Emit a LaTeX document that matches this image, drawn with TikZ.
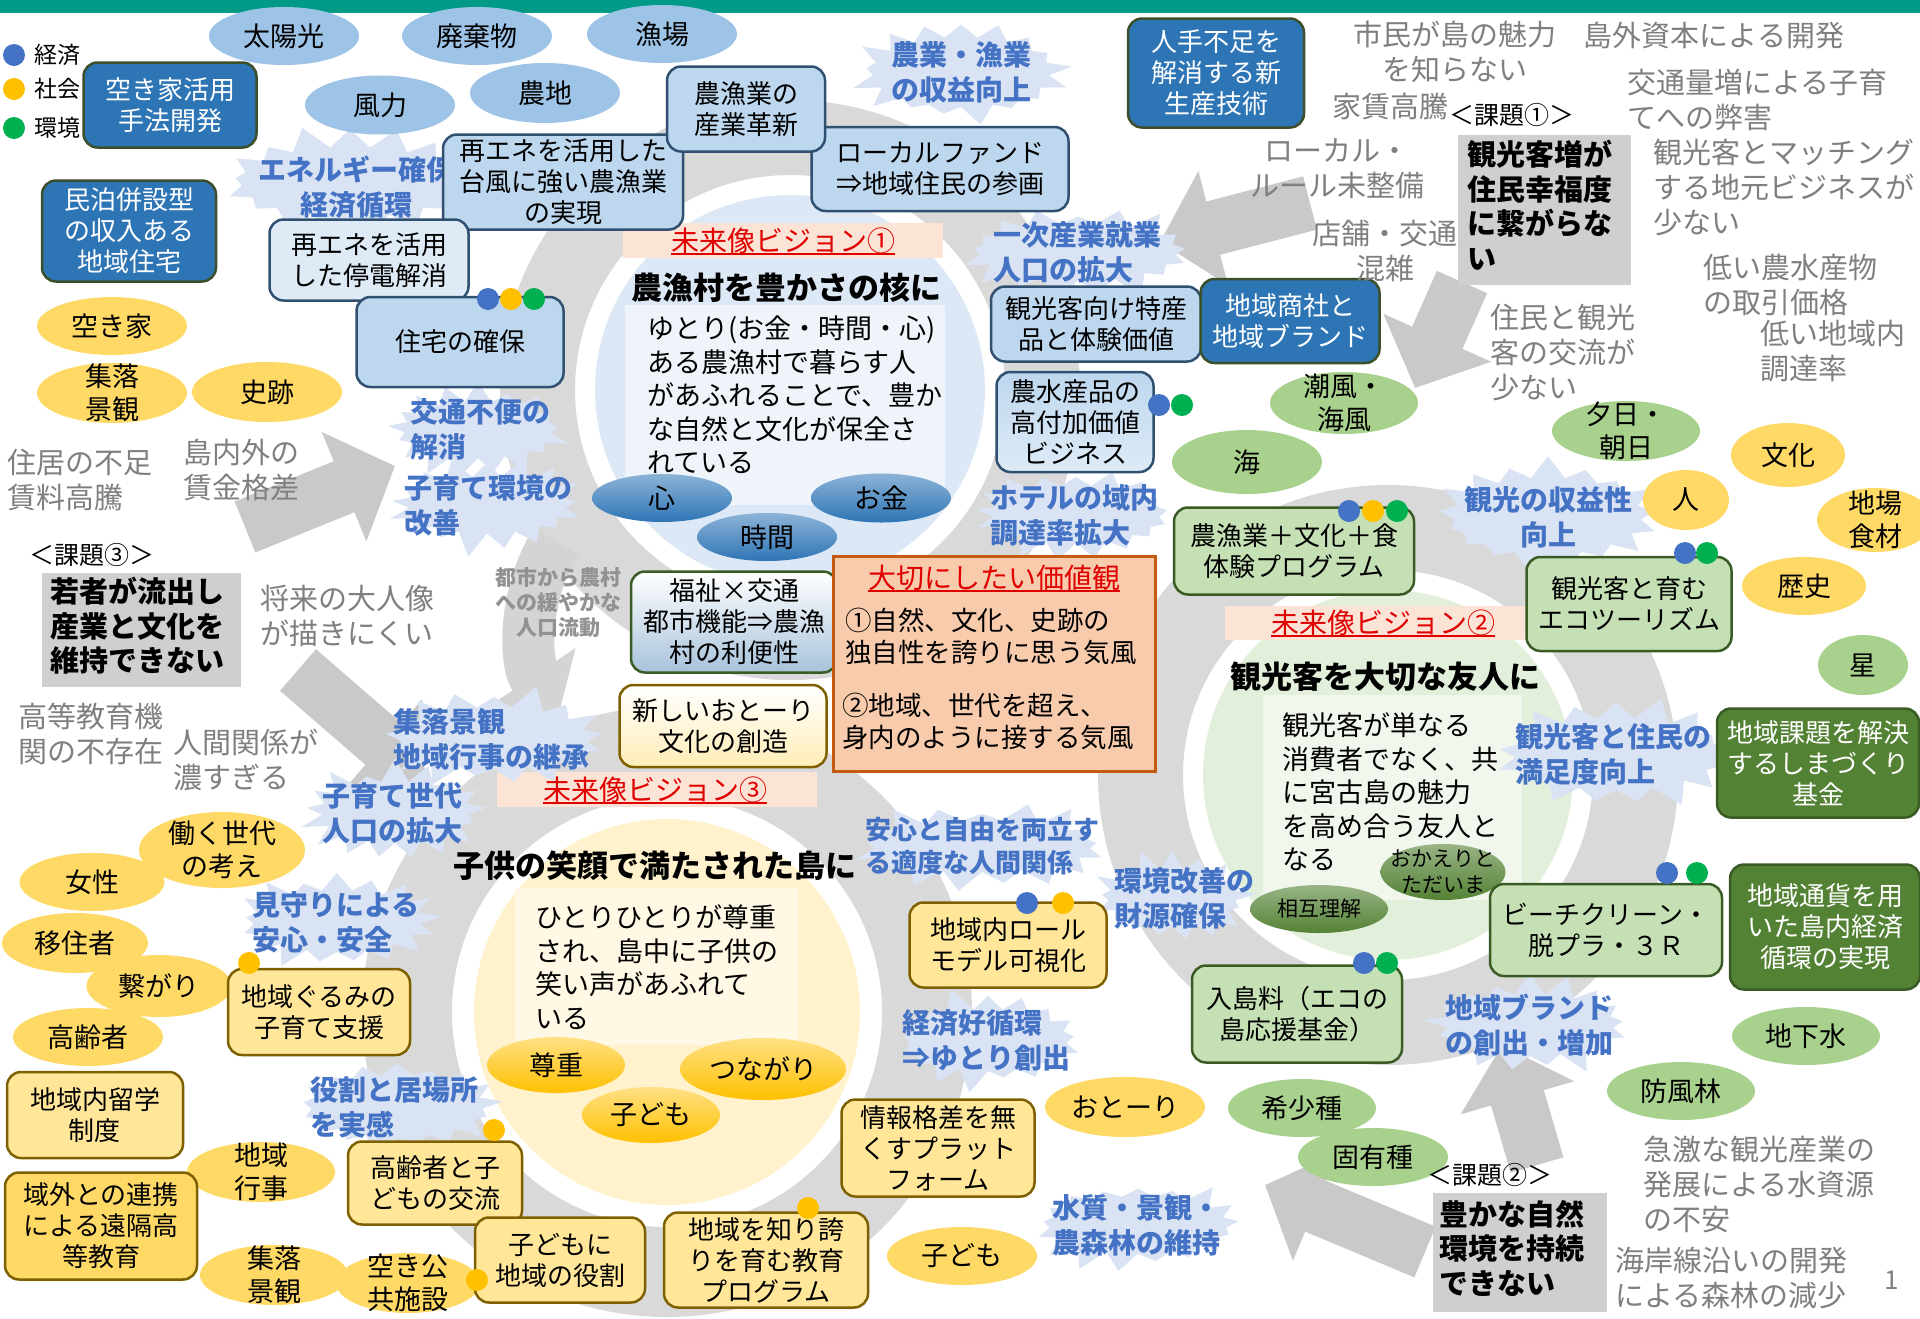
\documentclass[tikz,border=0pt]{standalone}
\usepackage{fontspec}
\setmainfont{Noto Sans CJK JP}
\usetikzlibrary{shapes.symbols,shapes.geometric,arrows.meta}
\newcommand\fz[2]{\fontsize{#1}{#2}\selectfont}
\definecolor{cTeal}{HTML}{009A87}
\definecolor{cDB}{HTML}{2E75B6}
\definecolor{cDBd}{HTML}{3B4F2B}
\definecolor{cLBe}{HTML}{9DC3E6}
\definecolor{cLB}{HTML}{BDD7EE}
\definecolor{cLBl}{HTML}{DEEBF7}
\definecolor{cLBd}{HTML}{2F5070}
\definecolor{cYe}{HTML}{FFD966}
\definecolor{cCr}{HTML}{FFE699}
\definecolor{cCrd}{HTML}{7F6000}
\definecolor{cGe}{HTML}{A9D18E}
\definecolor{cGb}{HTML}{C5E0B4}
\definecolor{cGd}{HTML}{3B5B25}
\definecolor{cDG}{HTML}{548235}
\definecolor{cBurst}{HTML}{DAE3F3}
\definecolor{cBlueT}{HTML}{4472C4}
\definecolor{cGrayT}{HTML}{7F7F7F}
\definecolor{cPBox}{HTML}{D0CECE}
\definecolor{cRing}{HTML}{D9D9D9}
\definecolor{cArr}{HTML}{C9C9C9}
\definecolor{cVal}{HTML}{F8CBAD}
\definecolor{cVald}{HTML}{C55A11}
\definecolor{cPeach}{HTML}{FBE3D6}
\definecolor{cRed}{HTML}{E00000}
\definecolor{cDotB}{HTML}{4472C4}
\definecolor{cDotY}{HTML}{FFC000}
\definecolor{cDotG}{HTML}{00B050}
\definecolor{cV1}{HTML}{DCE8F5}
\definecolor{cV1r}{HTML}{EEF4FA}
\definecolor{cV2}{HTML}{E2EFDA}
\definecolor{cV2r}{HTML}{F1F7ED}
\definecolor{cV3}{HTML}{FFF2CC}
\definecolor{cV3r}{HTML}{FFF8E5}
\tikzset{
  ell/.style={ellipse, inner sep=0pt},
  lbell/.style={ell, fill=cLBe},
  yell/.style={ell, fill=cYe},
  gell/.style={ell, fill=cGe},
  etxt/.style={align=center, inner sep=0pt, font=\fz{27}{33}},
  rbox/.style={rounded corners=14pt, line width=2.5pt, align=center, inner sep=0pt, font=\fz{26}{31}},
  dbb/.style={rbox, fill=cDB, draw=cDBd, text=white},
  lbb/.style={rbox, fill=cLB, draw=cLBd},
  cbb/.style={rbox, fill=cCr, draw=cCrd},
  gbb/.style={rbox, fill=cGb, draw=cGd},
  dgb/.style={rbox, fill=cDG, draw=cGd, text=white},
  burst/.style={starburst, starburst points=17, starburst point height=24pt, fill=cBurst, draw=none, inner sep=0pt},
  btxt/.style={text=cBlueT, font=\bfseries\fz{28}{35}, align=left, inner sep=0pt, anchor=west},
  gtxt/.style={text=cGrayT, font=\fz{29}{35}, align=left, inner sep=0pt, anchor=west},
  gtxtc/.style={text=cGrayT, font=\fz{29}{35}, align=center, inner sep=0pt},
  ptxt/.style={font=\bfseries\fz{29}{34.5}, align=left, inner sep=0pt, anchor=west},
  pbox/.style={fill=cPBox, inner sep=0pt},
  plab/.style={font=\fz{25}{30}, inner sep=0pt},
  vt/.style={text=cRed, font=\fz{28}{32}, inner sep=0pt},
  vh/.style={font=\bfseries\fz{31}{36}, inner sep=0pt},
  vb/.style={font=\fz{27}{33.5}, align=left, inner sep=0pt, anchor=west},
  dot/.style={circle, inner sep=0pt, minimum size=22pt},
  blockarr/.style={cArr, line width=55pt, -{Triangle[width=115pt,length=55pt]}},
}
\newcommand\Ell[7]{\node[#1, minimum width=#5pt, minimum height=#6pt] (#2) at (#3,#4) {};\node[etxt] (#2-t) at (#3,#4) {#7};}
\newcommand\Burst[6]{\node[burst, random starburst=#6, minimum width=#4pt, minimum height=#5pt] (#1) at (#2,#3) {};}
\begin{document}
\begin{tikzpicture}[x=1pt,y=-1pt]
\useasboundingbox (0,0) rectangle (1920,1318);
\fill[cTeal] (0,0) rectangle (1920,13);

% ---- gray rings
\fill[cRing,even odd rule] (790,390) circle (290pt) circle (215pt);
\fill[cRing,even odd rule] (1388,775) circle (290pt) circle (205pt);
\fill[cRing,even odd rule] (667,1012) circle (305pt) circle (215pt);
\draw[cArr!80, line width=52pt, -{Triangle[width=98pt,length=45pt]}] (690,625) ++(212:158) arc[start angle=212, end angle=146, radius=158];

% ---- vision circles
\fill[cV1] (790,390) circle (195pt);
\fill[cV1r] (625,305) rectangle (945,505);
\fill[cV2] (1388,775) circle (185pt);
\fill[cV2r] (1263,695) rectangle (1522,900);
\fill[cV3] (667,1012) circle (193pt);
\fill[cV3r] (515,888) rectangle (798,1045);
\fill[cPeach] (623,223) rectangle (943,258);
\fill[cPeach] (1225,606) rectangle (1527,640);
\fill[cPeach] (497,772) rectangle (817,807);

% ---- block arrows
\coordinate (a1s) at (245,527); \coordinate (a1e) at (395,466);
\coordinate (a2s) at (298,670); \coordinate (a2e) at (425,780);
\coordinate (a3s) at (1310,203); \coordinate (a3e) at (1160,242);
\coordinate (a4s) at (1462,282); \coordinate (a4e) at (1415,388);
\coordinate (a5s) at (1425,1252); \coordinate (a5e) at (1265,1185);
\coordinate (a6s) at (1537,1165); \coordinate (a6e) at (1502,1045);
\draw[blockarr] (a1s) -- (a1e);
\draw[blockarr] (a2s) -- (a2e);
\draw[blockarr] (a3s) -- (a3e);
\draw[blockarr] (a4s) -- (a4e);
\draw[blockarr] (a5s) -- (a5e);
\draw[blockarr] (a6s) -- (a6e);

% ---- starbursts
\Burst{s1}{350}{182}{265}{118}{11}
\Burst{s2}{961}{72}{225}{118}{12}
\Burst{s3}{1078}{252}{245}{105}{13}
\Burst{s4}{478}{430}{195}{105}{14}
\Burst{s5}{487}{505}{205}{105}{15}
\Burst{s6}{1076}{514}{215}{105}{16}
\Burst{s7}{1548}{516}{235}{125}{17}
\Burst{s8}{1616}{754}{250}{120}{18}
\Burst{s9}{494}{738}{235}{110}{19}
\Burst{s10}{395}{812}{195}{110}{20}
\Burst{s11}{337}{921}{215}{110}{21}
\Burst{s12}{397}{1106}{220}{110}{22}
\Burst{s13}{982}{846}{265}{100}{23}
\Burst{s14}{1172}{898}{175}{105}{24}
\Burst{s15}{988}{1040}{205}{110}{25}
\Burst{s16}{1138}{1225}{225}{105}{26}
\Burst{s17}{1530}{1025}{215}{110}{27}
\node[btxt, anchor=center, align=center] (s1t) at (356,187) {エネルギー確保\\経済循環};
\node[btxt, anchor=center, align=center] (s2t) at (961,72) {農業・漁業\\の収益向上};
\node[btxt] (s3t) at (993,252) {一次産業就業\\人口の拡大};
\node[btxt] (s4t) at (410,429) {交通不便の\\解消};
\node[btxt] (s5t) at (404,505) {子育て環境の\\改善};
\node[btxt] (s6t) at (990,515) {ホテルの域内\\調達率拡大};
\node[btxt, anchor=center, align=center] (s7t) at (1548,517) {観光の収益性\\向上};
\node[btxt] (s8t) at (1515,754) {観光客と住民の\\満足度向上};
\node[btxt] (s9t) at (393,739) {集落景観\\地域行事の継承};
\node[btxt] (s10t) at (322,813) {子育て世代\\人口の拡大};
\node[btxt] (s11t) at (252,922) {見守りによる\\安心・安全};
\node[btxt] (s12t) at (310,1107) {役割と居場所\\を実感};
\node[btxt, font=\bfseries\fz{26}{33}] (s13t) at (865,846) {安心と自由を両立す\\る適度な人間関係};
\node[btxt] (s14t) at (1114,898) {環境改善の\\財源確保};
\node[btxt] (s15t) at (902,1040) {経済好循環\\⇒ゆとり創出};
\node[btxt] (s16t) at (1052,1225) {水質・景観・\\農森林の維持};
\node[btxt] (s17t) at (1445,1025) {地域ブランド\\の創出・増加};

% ---- legend
\node[dot, fill=cDotB] (lg1) at (14,55) {};
\node[dot, fill=cDotY] (lg2) at (14,89) {};
\node[dot, fill=cDotG] (lg3) at (14,128) {};
\node[anchor=west, inner sep=0pt, font=\fz{23}{26}] (lg1t) at (34,55) {経済};
\node[anchor=west, inner sep=0pt, font=\fz{23}{26}] (lg2t) at (34,89) {社会};
\node[anchor=west, inner sep=0pt, font=\fz{23}{26}] (lg3t) at (34,128) {環境};

% ---- light blue ellipses
\Ell{lbell}{e1}{284}{36}{150}{58}{太陽光}
\Ell{lbell}{e2}{477}{36}{150}{58}{廃棄物}
\Ell{lbell}{e3}{662}{34}{150}{58}{漁場}
\Ell{lbell}{e4}{380}{105}{150}{59}{風力}
\Ell{lbell}{e5}{545}{93}{150}{60}{農地}

% ---- dark blue boxes
\node[dbb, minimum width=173pt, minimum height=85pt] (dA) at (170,105) {空き家活用\\手法開発};
\node[dbb, minimum width=174pt, minimum height=101pt] (dB) at (129,231) {民泊併設型\\の収入ある\\地域住宅};
\node[dbb, minimum width=176pt, minimum height=109pt] (dC) at (1216,73) {人手不足を\\解消する新\\生産技術};

% ---- light blue boxes
\node[lbb, minimum width=240pt, minimum height=95pt] (b2) at (563,182) {再エネを活用した\\台風に強い農漁業\\の実現};
\node[lbb, minimum width=257pt, minimum height=84pt] (b3) at (940,169) {ローカルファンド\\⇒地域住民の参画};
\node[lbb, minimum width=158pt, minimum height=85pt] (b1) at (746,109) {農漁業の\\産業革新};
\node[lbb, fill=cLBl, minimum width=199pt, minimum height=81pt] (b4) at (369,260) {再エネを活用\\した停電解消};
\node[lbb, minimum width=207pt, minimum height=90pt] (b5) at (460,342) {住宅の確保};
\node[dot, fill=cDotB] (b5d1) at (488,299) {};
\node[dot, fill=cDotY] (b5d2) at (511,299) {};
\node[dot, fill=cDotG] (b5d3) at (534,299) {};
\node[lbb, minimum width=210pt, minimum height=75pt] (b6) at (1096,324) {観光客向け特産\\品と体験価値};
\node[dbb, minimum width=179pt, minimum height=84pt] (dD) at (1290,321) {地域商社と\\地域ブランド};
\node[lbb, minimum width=157pt, minimum height=100pt, top color=cLB, bottom color=cLBl] (b7) at (1075,422) {農水産品の\\高付加価値\\ビジネス};
\node[dot, fill=cDotB] (b7d1) at (1159,405) {};
\node[dot, fill=cDotG] (b7d2) at (1182,405) {};

% ---- vision 1
\node[vt] (v1t) at (783,241) {未来像ビジョン①};
\draw[cRed, line width=1.8pt] (v1t.south west) -- (v1t.south east);
\node[vh] (v1h) at (786,288) {農漁村を豊かさの核に};
\node[vb] (v1b) at (647,395) {ゆとり(お金・時間・心)\\ある農漁村で暮らす人\\があふれることで、豊か\\な自然と文化が保全さ\\れている};
\Ell{ell, top color=cDB!55, bottom color=cDB}{o1}{662}{498}{140}{48}{心}
\Ell{ell, top color=cDB!55, bottom color=cDB}{o2}{881}{498}{140}{49}{お金}
\Ell{ell, top color=cDB!55, bottom color=cDB}{o3}{767}{537}{140}{48}{時間}

% ---- center values
\node[text=cGrayT!85, font=\bfseries\fz{21}{25}, align=center, inner sep=0pt] (flow) at (558,603) {都市から農村\\への緩やかな\\人口流動};
\node[rbox, draw=cGd, top color=white, bottom color=cLB!85!cLBd, minimum width=206pt, minimum height=101pt] (fuku) at (734,622) {福祉×交通\\都市機能⇒農漁\\村の利便性};
\node[rbox, draw=cCrd, top color=white, bottom color=cCr!70, minimum width=207pt, minimum height=82pt] (shin) at (723,726) {新しいおとーり\\文化の創造};
\node[draw=cVald, fill=cVal, line width=3pt, minimum width=322pt, minimum height=215pt, inner sep=0pt] (val) at (994,664) {};
\node[vt] (valt) at (994,578) {大切にしたい価値観};
\draw[cRed, line width=1.8pt] (valt.south west) -- (valt.south east);
\node[vb, font=\fz{26.5}{32}] (val1) at (845,636) {①自然、文化、史跡の\\独自性を誇りに思う気風};
\node[vb, font=\fz{26.5}{32}] (val2) at (842,721) {②地域、世代を超え、\\身内のように接する気風};

% ---- vision 2
\node[vt] (v2t) at (1383,623) {未来像ビジョン②};
\draw[cRed, line width=1.8pt] (v2t.south west) -- (v2t.south east);
\node[vh] (v2h) at (1385,677) {観光客を大切な友人に};
\node[vb] (v2b) at (1282,792) {観光客が単なる\\消費者でなく、共\\に宮古島の魅力\\を高め合う友人と\\なる};
\node[ell, top color=cDG!60, bottom color=cDG, minimum width=125pt, minimum height=56pt] (o4) at (1443,872) {};
\node[etxt, font=\fz{21}{26}] (o4-t) at (1443,872) {おかえりと\\ただいま};
\node[ell, top color=cDG!60, bottom color=cDG, minimum width=138pt, minimum height=48pt] (o5) at (1319,909) {};
\node[etxt, font=\fz{21}{26}] (o5-t) at (1319,909) {相互理解};

% ---- vision 3
\node[vt] (v3t) at (655,790) {未来像ビジョン③};
\draw[cRed, line width=1.8pt] (v3t.south west) -- (v3t.south east);
\node[vh] (v3h) at (655,866) {子供の笑顔で満たされた島に};
\node[vb] (v3b) at (535,967) {ひとりひとりが尊重\\され、島中に子供の\\笑い声があふれて\\いる};
\Ell{ell, top color=cYe!80, bottom color=cDotY}{o6}{556}{1065}{138}{56}{尊重}
\Ell{ell, top color=cYe!80, bottom color=cDotY}{o7}{763}{1069}{166}{62}{つながり}
\Ell{ell, top color=cYe!80, bottom color=cDotY}{o8}{651}{1115}{138}{56}{子ども}

% ---- green boxes
\node[gbb, minimum width=240pt, minimum height=87pt] (g1) at (1294,551) {農漁業＋文化＋食\\体験プログラム};
\node[dot, fill=cDotB] (g1d1) at (1349,511) {};
\node[dot, fill=cDotY] (g1d2) at (1373,511) {};
\node[dot, fill=cDotG] (g1d3) at (1397,511) {};
\node[gbb, minimum width=205pt, minimum height=94pt] (g2) at (1629,604) {観光客と育む\\エコツーリズム};
\node[dot, fill=cDotB] (g2d1) at (1685,553) {};
\node[dot, fill=cDotG] (g2d2) at (1707,553) {};
\node[gbb, minimum width=232pt, minimum height=92pt] (g3) at (1606,930) {ビーチクリーン・\\脱プラ・３Ｒ};
\node[dot, fill=cDotB] (g3d1) at (1667,873) {};
\node[dot, fill=cDotG] (g3d2) at (1697,873) {};
\node[gbb, minimum width=210pt, minimum height=97pt] (g4) at (1297,1014) {入島料（エコの\\島応援基金）};
\node[dot, fill=cDotB] (g4d1) at (1364,963) {};
\node[dot, fill=cDotG] (g4d2) at (1387,963) {};
\node[dgb, minimum width=202pt, minimum height=109pt] (dg1) at (1818,763) {地域課題を解決\\するしまづくり\\基金};
\node[dgb, minimum width=190pt, minimum height=125pt] (dg2) at (1825,927) {地域通貨を用\\いた島内経済\\循環の実現};

% ---- green ellipses
\Ell{gell}{f1}{1344}{403}{148}{62}{潮風・\\海風}
\Ell{gell}{f2}{1247}{462}{150}{64}{海}
\Ell{gell}{f3}{1626}{431}{148}{60}{夕日・\\朝日}
\Ell{gell}{f4}{1863}{665}{90}{60}{星}
\Ell{gell}{f5}{1806}{1036}{148}{58}{地下水}
\Ell{gell}{f6}{1681}{1091}{148}{58}{防風林}
\Ell{gell}{f7}{1302}{1108}{148}{58}{希少種}
\Ell{gell}{f8}{1373}{1157}{150}{58}{固有種}

% ---- yellow ellipses
\Ell{yell}{y1}{112}{326}{150}{58}{空き家}
\Ell{yell}{y2}{112}{393}{150}{60}{集落\\景観}
\Ell{yell}{y3}{267}{392}{150}{60}{史跡}
\Ell{yell}{y4}{222}{850}{166}{76}{働く世代\\の考え}
\Ell{yell}{y5}{92}{882}{145}{58}{女性}
\Ell{yell}{y6}{75}{943}{146}{60}{移住者}
\Ell{yell}{y7}{159}{986}{145}{62}{繋がり}
\Ell{yell}{y8}{88}{1037}{150}{58}{高齢者}
\Ell{yell}{y9}{261}{1172}{148}{60}{地域\\行事}
\Ell{yell}{y10}{274}{1275}{148}{60}{集落\\景観}
\Ell{yell}{y11}{408}{1283}{144}{60}{空き公\\共施設}
\Ell{yell}{y12}{1125}{1107}{160}{60}{おとーり}
\Ell{yell}{y13}{962}{1256}{150}{58}{子ども}
\Ell{yell}{y14}{1788}{455}{114}{64}{文化}
\Ell{yell}{y15}{1686}{500}{86}{60}{人}
\Ell{yell}{y16}{1875}{520}{116}{64}{地場\\食材}
\Ell{yell}{y17}{1804}{586}{124}{58}{歴史}

% ---- cream boxes
\node[cbb, minimum width=182pt, minimum height=86pt] (c1) at (319,1012) {地域ぐるみの\\子育て支援};
\node[dot, fill=cDotY] (c1d) at (249,963) {};
\node[cbb, minimum width=176pt, minimum height=86pt] (c2) at (95,1115) {地域内留学\\制度};
\node[cbb, fill=cYe, minimum width=192pt, minimum height=107pt] (c3) at (101,1226) {域外との連携\\による遠隔高\\等教育};
\node[cbb, minimum width=174pt, minimum height=83pt] (c4) at (435,1183) {高齢者と子\\どもの交流};
\node[dot, fill=cDotY] (c4d) at (494,1130) {};
\node[cbb, minimum width=170pt, minimum height=85pt] (c5) at (560,1260) {子どもに\\地域の役割};
\node[dot, fill=cDotY] (c5d) at (477,1280) {};
\node[cbb, minimum width=204pt, minimum height=95pt] (c6) at (766,1260) {地域を知り誇\\りを育む教育\\プログラム};
\node[dot, fill=cDotY] (c6d) at (808,1208) {};
\node[cbb, minimum width=193pt, minimum height=97pt] (c7) at (938,1148) {情報格差を無\\くすプラット\\フォーム};
\node[cbb, minimum width=197pt, minimum height=85pt] (c8) at (1008,945) {地域内ロール\\モデル可視化};
\node[dot, fill=cDotB] (c8d1) at (1027,903) {};
\node[dot, fill=cDotY] (c8d2) at (1063,903) {};

% ---- gray problem texts
\node[gtxtc] (G1) at (1455,52) {市民が島の魅力\\を知らない};
\node[gtxtc] (G2) at (1390,107) {家賃高騰};
\node[gtxtc] (G3) at (1714,35) {島外資本による開発};
\node[gtxt] (G4) at (1627,100) {交通量増による子育\\てへの弊害};
\node[gtxt] (G5) at (1653,188) {観光客とマッチング\\する地元ビジネスが\\少ない};
\node[gtxt] (G6) at (1703,285) {低い農水産物\\の取引価格};
\node[gtxt] (G7) at (1760,351) {低い地域内\\調達率};
\node[gtxt] (G8) at (1490,352) {住民と観光\\客の交流が\\少ない};
\node[gtxtc] (G9) at (1337,169) {ローカル・\\ルール未整備};
\node[gtxtc] (G10) at (1385,251) {店舗・交通\\混雑};
\node[gtxt] (G11) at (7,480) {住居の不足\\賃料高騰};
\node[gtxt] (G12) at (183,470) {島内外の\\賃金格差};
\node[gtxt] (G13) at (260,616) {将来の大人像\\が描きにくい};
\node[gtxt] (G14) at (18,734) {高等教育機\\関の不存在};
\node[gtxt] (G15) at (173,760) {人間関係が\\濃すぎる};
\node[gtxt] (G16) at (1643,1184) {急激な観光産業の\\発展による水資源\\の不安};
\node[gtxt] (G17) at (1615,1278) {海岸線沿いの開発\\による森林の減少};
\node[text=cGrayT, font=\fz{26}{30}, inner sep=0pt] (pg) at (1892,1280) {1};

% ---- problem boxes
\node[plab] (p1l) at (1512,115) {＜課題①＞};
\node[pbox, minimum width=173pt, minimum height=150pt] (p1b) at (1544.5,210) {};
\node[ptxt] (p1t) at (1467,205) {観光客増が\\住民幸福度\\に繋がらな\\い};
\node[plab] (p3l) at (92,555) {＜課題③＞};
\node[pbox, minimum width=199pt, minimum height=114pt] (p3b) at (141.5,630) {};
\node[ptxt] (p3t) at (50,626) {若者が流出し\\産業と文化を\\維持できない};
\node[plab] (p2l) at (1490,1175) {＜課題②＞};
\node[pbox, minimum width=174pt, minimum height=119pt] (p2b) at (1520,1252.5) {};
\node[ptxt] (p2t) at (1439,1248) {豊かな自然\\環境を持続\\できない};
\end{tikzpicture}
\end{document}
